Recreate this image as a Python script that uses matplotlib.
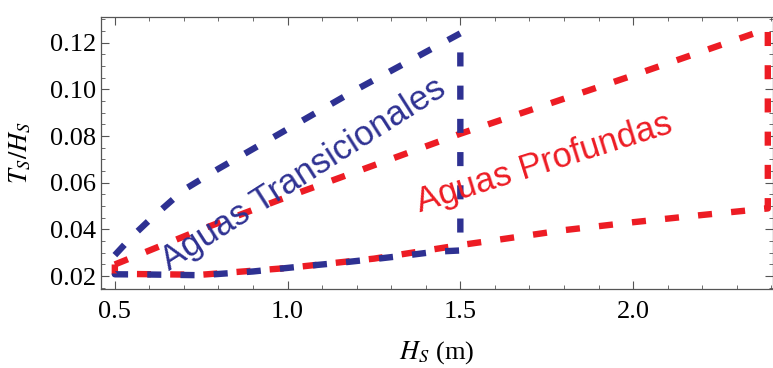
import matplotlib
matplotlib.use('Agg')
import matplotlib.pyplot as plt
from matplotlib.ticker import MultipleLocator, FormatStrFormatter

plt.rcParams['mathtext.fontset'] = 'stix'
plt.rcParams['font.family'] = 'Liberation Serif'

# Aguas transicionales: borde superior, borde inferior
hs_trans_sup = [0.5, 0.55, 0.6, 0.7, 0.8, 1.0, 1.2, 1.4, 1.5]
ts_trans_sup = [0.029, 0.037, 0.044, 0.057, 0.066, 0.083, 0.100, 0.116, 0.124]
hs_trans_inf = [0.5, 0.6, 0.75, 0.9, 1.05, 1.15, 1.25, 1.35, 1.43, 1.5]
ts_trans_inf = [0.0208, 0.0207, 0.0204, 0.0220, 0.0243, 0.0257, 0.0273, 0.0290, 0.0305, 0.031]

# Aguas profundas
hs_prof_sup = [0.5, 0.75, 1.0, 1.5, 2.0, 2.39]
ts_prof_sup = [0.025, 0.040, 0.054, 0.081, 0.106, 0.126]
hs_prof_inf = [0.5, 0.75, 1.0, 1.25, 1.5, 1.6, 1.8, 2.0, 2.2, 2.39]
ts_prof_inf = [0.0210, 0.0206, 0.0235, 0.0275, 0.0333, 0.0354, 0.0397, 0.0431, 0.0462, 0.049]

azul = '#2e3192'
rojo = '#ed1c24'

fig = plt.figure(figsize=(7.73, 3.68), dpi=100)
ax = fig.add_axes([0.1307, 0.2147, 0.8693, 0.7391])

def contorno(hs_sup, ts_sup, hs_inf, ts_inf):
    # poligono cerrado: sube por arriba, baja por el lado derecho, vuelve por abajo
    xs = list(hs_sup) + list(hs_inf[::-1]) + [hs_sup[0]]
    ys = list(ts_sup) + list(ts_inf[::-1]) + [ts_sup[0]]
    return xs, ys

x, y = contorno(hs_prof_sup, ts_prof_sup, hs_prof_inf, ts_prof_inf)
ax.plot(x, y, color=rojo, lw=4.6, dashes=(2.2, 3.0), solid_capstyle='butt')
x, y = contorno(hs_trans_sup, ts_trans_sup, hs_trans_inf, ts_trans_inf)
ax.plot(x, y, color=azul, lw=4.6, dashes=(2.2, 3.0), solid_capstyle='butt')

ax.text(1.06, 0.0600, 'Aguas Transicionales', color=azul, fontsize=25,
        family='Liberation Sans', rotation=32.5, ha='center', va='baseline',
        rotation_mode='anchor')
ax.text(1.75, 0.0645, 'Aguas Profundas', color=rojo, fontsize=25,
        family='Liberation Sans', rotation=17.5, ha='center', va='baseline',
        rotation_mode='anchor')

ax.set_xlim(0.46, 2.405)
ax.set_ylim(0.0145, 0.131)
ax.xaxis.set_major_locator(MultipleLocator(0.5))
ax.xaxis.set_minor_locator(MultipleLocator(0.1))
ax.yaxis.set_major_locator(MultipleLocator(0.02))
ax.yaxis.set_minor_locator(MultipleLocator(0.005))
ax.xaxis.set_major_formatter(FormatStrFormatter('%.1f'))
ax.yaxis.set_major_formatter(FormatStrFormatter('%.2f'))
ax.tick_params(which='both', direction='in', top=True, right=True,
               color='#555555', labelsize=19)
ax.tick_params(which='major', length=6, width=0.8)
ax.tick_params(which='minor', length=3, width=0.6)
ax.tick_params(axis='x', pad=9)
for s in ax.spines.values():
    s.set_color('#555555')
    s.set_linewidth(0.9)

ax.set_xlabel(r'$H_S$ (m)', fontsize=19, labelpad=11)
ax.set_ylabel(r'$T_S/H_S$', fontsize=19)
ax.yaxis.set_label_coords(-0.101, 0.5)

fig.savefig('out.png', dpi=100)
